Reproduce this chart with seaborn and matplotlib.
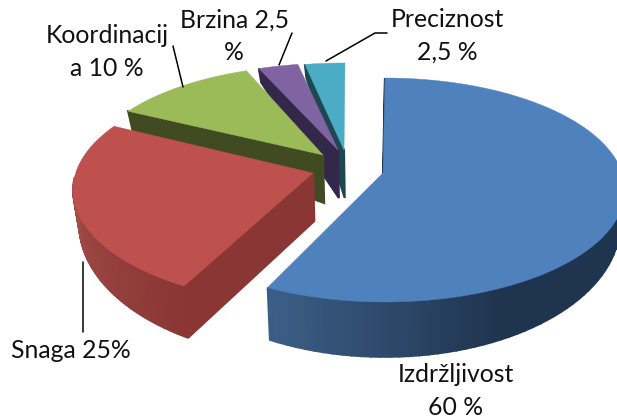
import numpy as np
import matplotlib
matplotlib.use("Agg")
import matplotlib.pyplot as plt
import seaborn as sns

sns.set_theme(style="white")
plt.rcParams['font.family'] = ['Lato', 'DejaVu Sans']

# udjeli u postocima
labels = ["Izdržljivost\n60 %", "Snaga 25%", "Koordinacij\na 10 %", "Brzina 2,5\n%", "Preciznost\n2,5 %"]
values = [60, 25, 10, 2.5, 2.5]
top_colors = ["#4F81BD", "#BE504D", "#9BBB59", "#8064A2", "#4BACC6"]
wall_light = ["#41658F", "#A8504C", "#414B21", "#33274A", "#1F4752"]
wall_dark = ["#1F344F", "#893634", "#414B21", "#33274A", "#1F4752"]

# polozaj kriski u pikselima: vrh, sredina elipse, radijusi
apex = [(383, 173), (313, 173), (323, 155), (338, 150), (344, 150)]
centre = [(385, 190), (313, 190), (323, 170), (338, 165), (345, 165)]
radii = [(240, 112), (240, 114), (235, 105), (243, 102), (243, 102)]
lean = [0.985, 1, 1, 1, 1]
# raspon kuta za prijelaz boje stijenke
shade = [(150, 216), (212, 280), (0, 360), (0, 360), (0, 360)]
label_pos = [(456, 391), (71, 350), (107, 52), (234, 36), (447, 36)]
leaders = [
    ([83, 83], [262, 332]),
    ([173, 183], [46, 87]),
    ([292, 279], [33, 65]),
    ([326, 375, 387], [61, 33, 33]),
]


def warp(theta, k=1):
    # perspektiva malo pomice kutove
    return k * np.interp(theta, [0, 216, 306, 342, 360], [0, 212.5, 304, 341, 360])


def rim(theta, c, r, k):
    t = np.radians(warp(theta, k))
    return c[0] + r[0] * np.sin(t), c[1] - r[1] * np.cos(t)


def drop(x, y, depth):
    return x + (380 - x) * 0.02, y + depth


def rim_depth(theta, k):
    return 34 - 21 * np.cos(np.radians(warp(theta, k)))


fig = plt.figure(figsize=(6.17, 4.19), dpi=100)
ax = fig.add_axes([0, 0, 1, 1])
ax.set_xlim(0, 617)
ax.set_ylim(419, 0)
ax.axis("off")

ends = np.cumsum(values) / np.sum(values) * 360
starts = ends - np.array(values) / np.sum(values) * 360

# od straznje kriske prema prednjoj
for i in [4, 3, 2, 1, 0]:
    th = np.linspace(starts[i], ends[i], 90)
    xs, ys = rim(th, centre[i], radii[i], lean[i])
    bx, by = drop(xs, ys, rim_depth(th, lean[i]))

    # zaobljena stijenka, samo prednji dio se vidi
    pal = sns.blend_palette([wall_dark[i], wall_light[i]], 90)
    lo, hi = shade[i]
    for k in range(len(th) - 1):
        t = warp(th[k], lean[i])
        if np.cos(np.radians(t)) > 0.1:
            continue
        frac = np.clip((t - lo) / (hi - lo), 0, 1)
        col = pal[int(frac * 89)]
        ax.fill([xs[k], xs[k + 1], bx[k + 1], bx[k]],
                [ys[k], ys[k + 1], by[k + 1], by[k]],
                color=col, lw=1.2, zorder=1)

    # ravna stijenka
    ax_b = drop(apex[i][0], apex[i][1], 48)
    ax.fill([xs[0], apex[i][0], ax_b[0], bx[0]],
            [ys[0], apex[i][1], ax_b[1], by[0]],
            color=wall_dark[i], lw=1.5, zorder=1)

    # gornja ploha
    ax.fill(np.r_[apex[i][0], xs], np.r_[apex[i][1], ys],
            color=top_colors[i], lw=0.3, zorder=1)

for lx, ly in leaders:
    ax.plot(lx, ly, color="black", lw=1.1, zorder=2)

for name, pos in zip(labels, label_pos):
    ax.text(pos[0], pos[1], name, ha="center", va="center", fontsize=17.8,
            color="#111111", linespacing=1.48, zorder=3)

fig.savefig("out.png", dpi=100)
